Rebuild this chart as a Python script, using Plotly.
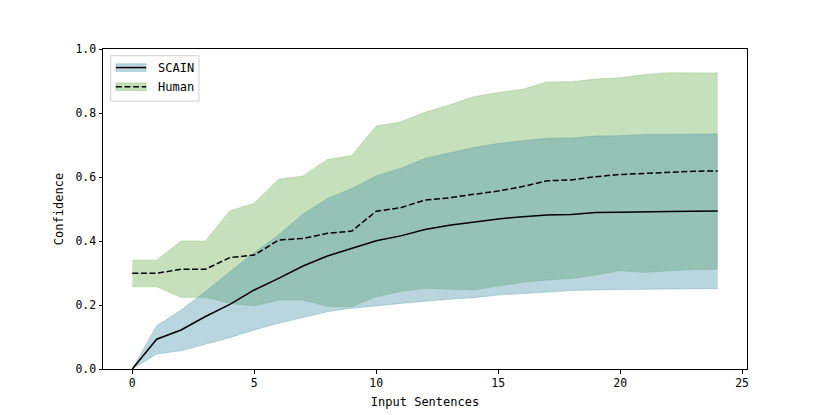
import plotly.graph_objects as go

# input sentences 0..24
sentences = list(range(25))

scain_mean = [0.0, 0.093, 0.122, 0.164, 0.202, 0.247, 0.283, 0.322, 0.353, 0.376,
              0.401, 0.416, 0.436, 0.449, 0.460, 0.469, 0.476, 0.481, 0.483, 0.489,
              0.490, 0.492, 0.492, 0.493, 0.494]
scain_upper = [0.0, 0.135, 0.184, 0.242, 0.304, 0.364, 0.419, 0.484, 0.533, 0.564,
               0.603, 0.627, 0.658, 0.676, 0.692, 0.705, 0.712, 0.721, 0.722, 0.728,
               0.729, 0.733, 0.733, 0.734, 0.735]
scain_lower = [0.0, 0.047, 0.057, 0.078, 0.098, 0.122, 0.143, 0.161, 0.179, 0.190,
               0.198, 0.205, 0.212, 0.218, 0.223, 0.231, 0.236, 0.242, 0.245, 0.247,
               0.249, 0.249, 0.250, 0.251, 0.251]

human_mean = [0.299, 0.299, 0.312, 0.312, 0.348, 0.356, 0.403, 0.408, 0.424, 0.431,
              0.493, 0.504, 0.528, 0.535, 0.546, 0.556, 0.570, 0.588, 0.591, 0.601,
              0.608, 0.611, 0.616, 0.618, 0.619]
human_upper = [0.340, 0.340, 0.400, 0.400, 0.494, 0.518, 0.593, 0.603, 0.655, 0.667,
               0.759, 0.772, 0.802, 0.825, 0.851, 0.864, 0.874, 0.897, 0.898, 0.906,
               0.910, 0.920, 0.926, 0.925, 0.925]
human_lower = [0.257, 0.257, 0.224, 0.224, 0.205, 0.197, 0.216, 0.216, 0.195, 0.195,
               0.226, 0.242, 0.252, 0.249, 0.247, 0.259, 0.271, 0.278, 0.283, 0.294,
               0.307, 0.302, 0.307, 0.311, 0.312]

FONT = "DejaVu Sans Mono"
BLUE_FILL = "rgba(80,150,172,0.4)"
GREEN_FILL = "rgba(110,178,85,0.4)"

fig = go.Figure()

def band(lower, upper, color):
    fig.add_trace(go.Scatter(x=sentences, y=lower, mode="lines",
                             line=dict(color=color, width=0.8), showlegend=False,
                             hoverinfo="skip"))
    fig.add_trace(go.Scatter(x=sentences, y=upper, mode="lines", fill="tonexty",
                             fillcolor=color, line=dict(color=color, width=0.8),
                             showlegend=False, hoverinfo="skip"))

band(human_lower, human_upper, GREEN_FILL)
band(scain_lower, scain_upper, BLUE_FILL)

fig.add_trace(go.Scatter(x=sentences, y=scain_mean, mode="lines", name="SCAIN",
                         line=dict(color="black", width=1.5), showlegend=False))
fig.add_trace(go.Scatter(x=sentences, y=human_mean, mode="lines", name="Human",
                         line=dict(color="black", width=1.5, dash="6px,2.6px"),
                         showlegend=False))

# hand-made legend, matplotlib style
shapes = [
    dict(type="rect", xref="x domain", yref="y domain", x0=0.012, x1=0.149,
         y0=0.837, y1=0.979, line=dict(color="#d0d0d0", width=1), fillcolor="white"),
]
entries = [("SCAIN", BLUE_FILL, "solid", 0.942), ("Human", GREEN_FILL, "dash", 0.882)]
for label, fill, dash, yc in entries:
    shapes.append(dict(type="rect", xref="x domain", yref="y domain",
                       x0=0.020, x1=0.067, y0=yc - 0.012, y1=yc + 0.012,
                       line=dict(color=fill, width=0.8), fillcolor=fill))
    shapes.append(dict(type="line", xref="x domain", yref="y domain",
                       x0=0.020, x1=0.067, y0=yc, y1=yc,
                       line=dict(color="black", width=1.5,
                                 dash="6px,2.6px" if dash == "dash" else "solid")))
annotations = [dict(xref="x domain", yref="y domain", x=0.082, y=yc, text=label,
                    showarrow=False, xanchor="left", yanchor="middle",
                    font=dict(family=FONT, size=12, color="black"))
               for label, _, _, yc in entries]

axis_common = dict(showline=True, linecolor="black", linewidth=1, mirror=True,
                   ticks="outside", ticklen=3.5, tickwidth=0.8, tickcolor="black",
                   showgrid=False, zeroline=False,
                   tickfont=dict(family=FONT, size=11.5, color="black"))

fig.update_layout(
    width=830, height=415,
    margin=dict(l=95, r=91, t=41, b=54),
    plot_bgcolor="white", paper_bgcolor="white",
    shapes=shapes, annotations=annotations,
    xaxis=dict(range=[-1.2, 25.2], tickvals=[0, 5, 10, 15, 20, 25],
               title=dict(text="Input Sentences", standoff=8,
                          font=dict(family=FONT, size=12, color="black")),
               **axis_common),
    yaxis=dict(range=[0, 1], tickvals=[0, 0.2, 0.4, 0.6, 0.8, 1.0],
               tickformat=".1f",
               title=dict(text="Confidence", standoff=9,
                          font=dict(family=FONT, size=12, color="black")),
               **axis_common),
)

fig.write_html("out.html")
